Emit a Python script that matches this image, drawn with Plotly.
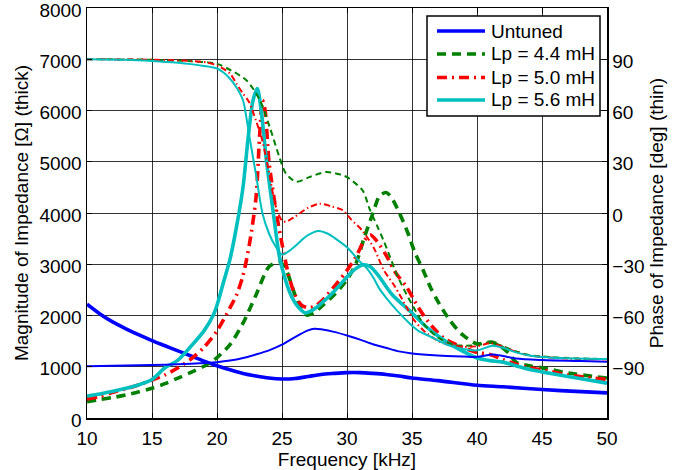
import plotly.graph_objects as go

# ---------------- data ----------------
# Magnitude of impedance [Ohm] (thick curves, left axis)
f_untuned_mag = [10, 11, 12, 13, 14, 15, 16, 17, 18, 19, 20, 21, 22, 23, 24, 25, 26, 27, 28, 29, 30, 31, 32, 33, 34, 35, 37, 40, 42, 45, 48, 50]
untuned_mag = [2220, 2030, 1870, 1740, 1620, 1510, 1410, 1310, 1210, 1110, 1020, 940, 870, 820, 780, 760, 770, 810, 850, 870, 885, 885, 870, 850, 820, 780, 730, 640, 610, 555, 515, 490]

f_l44_mag = [10, 11, 12, 13, 14, 15, 16, 17, 18, 19, 20, 21, 22, 23, 24, 24.8, 25.3, 25.8, 26.3, 26.9, 27.5, 28, 29, 30, 30.7, 31.3, 32, 32.5, 33, 33.4, 34.05, 34.7, 35.2, 35.85, 36.4, 37, 37.9, 38.9, 40, 41.1, 41.7, 42.5, 43, 44, 45, 47, 50]
l44_mag = [320, 360, 400, 450, 510, 580, 670, 780, 890, 1010, 1180, 1430, 1850, 2400, 2950, 3050, 2900, 2550, 2200, 2010, 2060, 2170, 2400, 2700, 3020, 3500, 4000, 4330, 4400, 4310, 3990, 3600, 3240, 2890, 2560, 2270, 1910, 1620, 1450, 1480, 1420, 1250, 1090, 1020, 980, 880, 780]

f_l50_mag = [10, 11, 12, 13, 14, 15, 16, 17, 18, 19, 20, 21, 21.5, 22, 22.5, 23, 23.3, 23.5, 23.7, 24, 24.6, 25, 25.5, 26, 26.5, 27.1, 27.5, 28, 29.2, 30, 30.7, 31.3, 31.8, 32.3, 33, 33.7, 34.6, 35.5, 36.5, 37.5, 38.7, 40, 41, 42, 43, 44, 45, 47, 50]
l50_mag = [370, 420, 500, 570, 650, 740, 840, 980, 1150, 1380, 1700, 2150, 2400, 2780, 3400, 4300, 5600, 6200, 6000, 5000, 3950, 3400, 2800, 2400, 2200, 2150, 2180, 2270, 2620, 2880, 3150, 3450, 3570, 3450, 3180, 2850, 2550, 2150, 1800, 1550, 1400, 1280, 1240, 1140, 1050, 980, 940, 840, 750]

f_l56_mag = [10, 11, 12, 13, 14, 15, 16, 17, 18, 19, 19.7, 20, 20.5, 21, 21.5, 22, 22.4, 22.77, 23.1, 23.4, 23.8, 24.2, 24.57, 24.8, 25.2, 25.6, 26, 26.5, 26.8, 27.5, 28, 29, 30, 30.5, 31.25, 31.8, 32.5, 33.5, 35, 36, 37, 38, 39, 40, 41, 42, 43, 44, 45, 47, 50]
l56_mag = [430, 470, 520, 580, 650, 750, 980, 1130, 1400, 1700, 2000, 2200, 2650, 3100, 3730, 4500, 5480, 6195, 6430, 6000, 5030, 4250, 3540, 3150, 2750, 2450, 2250, 2100, 2050, 2130, 2230, 2470, 2750, 2880, 2990, 2950, 2750, 2400, 2050, 1800, 1600, 1430, 1290, 1170, 1120, 1090, 1020, 950, 900, 810, 680]

# Phase of impedance [deg] (thin curves, right axis)
f_untuned_ph = [10, 12, 14, 16, 18, 20, 21, 22, 23, 24, 25, 26, 27, 27.5, 28, 29, 30, 31, 32, 33, 34, 35, 37, 39, 40, 41.2, 42, 43, 45, 48, 50]
untuned_ph = [-89.7, -89.4, -89.1, -88.8, -88.2, -87.3, -86.4, -84.9, -82.8, -80.4, -77.1, -72.6, -68.7, -67.8, -68.1, -69.6, -71.7, -74.1, -76.8, -78.9, -81.0, -82.2, -83.4, -84.0, -84.2, -82.8, -83.7, -85.2, -86.1, -86.7, -87.0]

f_l44_ph = [10, 15, 18, 20, 21.1, 22.3, 23.3, 24.05, 24.8, 25.3, 26.1, 27.1, 28.4, 29.5, 30, 31.2, 31.75, 32.3, 32.8, 33.3, 33.8, 34.4, 35.1, 35.85, 36.9, 38.2, 40, 41, 42, 43, 44, 45, 47, 50]
l44_ph = [90, 89.7, 88.8, 87.3, 83.4, 77.4, 66, 50.4, 32.7, 23.1, 18.3, 21, 24, 22.5, 21, 13.2, 2.1, -7.2, -15.9, -25.5, -35.4, -45, -54.9, -64.5, -72.3, -77.1, -77.4, -75.6, -78, -81, -83.1, -84, -84.9, -85.5]

f_l50_ph = [10, 15, 18, 19.2, 20, 21, 21.5, 22, 22.5, 23, 23.4, 24, 24.5, 25, 25.3, 26, 27, 27.9, 28.8, 29.7, 30.3, 31.2, 32.1, 32.8, 33.7, 34.5, 35.1, 36.1, 37.4, 38.9, 40, 41, 42, 43, 44, 45, 47, 50]
l50_ph = [90, 89.7, 88.95, 88.2, 86.4, 81.6, 75.6, 69.9, 64.5, 54, 45, 24, 4.5, -4.5, -5.1, -2.1, 3, 5.4, 3.9, 1.5, -3.6, -10.5, -21, -33, -43.2, -54, -62.1, -70.2, -76.2, -78.3, -78, -76.2, -78.3, -81.3, -83.4, -84.3, -85.2, -85.65]

f_l56_ph = [10, 13, 15, 17, 18, 19, 20, 20.5, 21, 21.5, 22, 22.3, 22.5, 23, 23.5, 24, 24.5, 25, 25.5, 26, 26.5, 27, 27.8, 28.5, 29, 30, 31, 31.5, 32, 32.5, 33, 33.8, 34.8, 35.5, 36.4, 37.6, 38.5, 40, 41.2, 42, 43, 44, 45, 47, 50]
l56_ph = [90, 89.7, 88.95, 87.9, 87.15, 86.1, 84.6, 82.2, 78.6, 73.5, 66, 54, 44.4, 22.5, -0.3, -12, -19.5, -24.3, -22.5, -19.5, -15.9, -12.9, -10.5, -12, -14.4, -20.1, -28.5, -32.1, -37.5, -44.4, -49.5, -56.7, -64.5, -69, -72.3, -76.8, -78.9, -80.4, -77.7, -78.9, -81.6, -83.4, -84.3, -85.05, -85.5]

series_names = ["Untuned", "Lp = 4.4 mH", "Lp = 5.0 mH", "Lp = 5.6 mH"]
x_ticks = [10, 15, 20, 25, 30, 35, 40, 45, 50]
mag_ticks = [0, 1000, 2000, 3000, 4000, 5000, 6000, 7000, 8000]
phase_ticks = [-90, -60, -30, 0, 30, 60, 90]

# ---------------- styling ----------------
W, H = 681, 470
ML, MR, MT, MB = 87, 74, 8, 52
PW, PH = W - ML - MR, H - MT - MB

colors = ["#0000ff", "#008000", "#ff0000", "#00bfbf"]
thick_dash = ["solid", "9px,6px", "10px,5px,2px,5px", "solid"]
thin_dash = ["solid", "6px,4px", "6px,3px,1.5px,3px", "solid"]
THICK, THIN = 3.6, 2.0
FONT = "Liberation Sans, Arial, sans-serif"
FS = 19


def px_x(px):
    return (px - ML) / PW


def px_y(py):
    return 1 - (py - MT) / PH


mags = [(f_untuned_mag, untuned_mag), (f_l44_mag, l44_mag), (f_l50_mag, l50_mag), (f_l56_mag, l56_mag)]
phs = [(f_untuned_ph, untuned_ph), (f_l44_ph, l44_ph), (f_l50_ph, l50_ph), (f_l56_ph, l56_ph)]

fig = go.Figure()
for i in range(4):
    fx, fy = phs[i]
    fig.add_trace(go.Scatter(x=fx, y=fy, yaxis="y2", mode="lines", showlegend=False,
                             line=dict(color=colors[i], width=THIN, dash=thin_dash[i], shape="spline", smoothing=0.8),
                             hoverinfo="skip"))
for i in range(4):
    fx, fy = mags[i]
    fig.add_trace(go.Scatter(x=fx, y=fy, mode="lines", name=series_names[i], showlegend=False,
                             line=dict(color=colors[i], width=THICK, dash=thick_dash[i], shape="spline", smoothing=0.8)))

axis_common = dict(showline=True, linecolor="black", linewidth=1.5, ticks="inside", ticklen=5,
                   tickcolor="black", tickfont=dict(family=FONT, size=FS, color="black"),
                   zeroline=False, automargin=False, ticklabeloverflow="allow")

# legend box drawn as a framed panel with line samples
shapes = [dict(type="rect", xref="paper", yref="paper", x0=px_x(427), x1=px_x(600), y0=px_y(116), y1=px_y(16),
               line=dict(color="black", width=1.5), fillcolor="white", layer="above")]
annotations = []
legend_rows = [31, 54, 77.5, 100]
for i, name in enumerate(series_names):
    yy = px_y(legend_rows[i])
    shapes.append(dict(type="line", xref="paper", yref="paper", x0=px_x(437), x1=px_x(485), y0=yy, y1=yy,
                       line=dict(color=colors[i], width=THICK, dash=thick_dash[i]), layer="above"))
    annotations.append(dict(xref="paper", yref="paper", x=px_x(489), y=yy, text=name, showarrow=False,
                            xanchor="left", yanchor="middle", font=dict(family=FONT, size=FS, color="black")))

fig.update_layout(
    width=W, height=H,
    margin=dict(l=ML, r=MR, t=MT, b=MB),
    paper_bgcolor="white", plot_bgcolor="white",
    font=dict(family=FONT, size=FS, color="black"),
    showlegend=False,
    xaxis=dict(range=[10, 50], tickvals=x_ticks, mirror="ticks", showgrid=True,
               gridcolor="rgba(0,0,0,0.8)", gridwidth=1, ticklabelstandoff=3,
               title=dict(text="Frequency [kHz]", font=dict(family=FONT, size=FS), standoff=0),
               **axis_common),
    yaxis=dict(range=[0, 8000], tickvals=mag_ticks, showgrid=True, gridcolor="rgba(0,0,0,0.8)", gridwidth=1,
               ticklabelshift=2,
               title=dict(text="Magnitude of Impedance [Ω] (thick)", font=dict(family=FONT, size=FS), standoff=6),
               **axis_common),
    yaxis2=dict(range=[-120, 120], tickvals=phase_ticks, overlaying="y", side="right", showgrid=False,
                ticklabelshift=2,
                title=dict(text="Phase of Impedance [deg] (thin)", font=dict(family=FONT, size=FS), standoff=6),
                **axis_common),
    shapes=shapes,
    annotations=annotations,
)

fig.write_html("out.html", config={"displayModeBar": False, "staticPlot": True},
               post_script="document.body.style.margin='0';document.body.style.overflow='hidden';")
